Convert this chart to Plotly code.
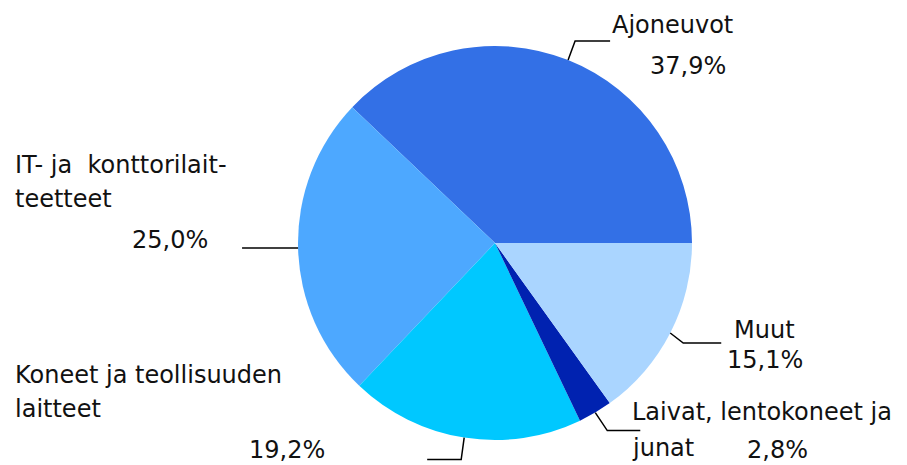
import math
import plotly.graph_objects as go

categories = ["Ajoneuvot", "IT- ja  konttorilait-teetteet", "Koneet ja teollisuuden laitteet",
              "Laivat, lentokoneet ja junat", "Muut"]
values = [37.9, 25.0, 19.2, 2.8, 15.1]
value_labels = ["37,9%", "25,0%", "19,2%", "2,8%", "15,1%"]
colors = ["#3370E6", "#4DA8FF", "#00C8FF", "#0022B0", "#AAD5FF"]

W, H = 907, 465
CX, CY, R = 495, 243, 197


def px(x):
    return x / W


def py(y):
    return 1 - y / H


total = sum(values)
# plotly places the first counterclockwise slice ending at 'rotation';
# shift so that the first slice starts at 3 o'clock
rotation = 90 - values[0] / total * 360

fig = go.Figure(go.Pie(
    labels=categories, values=values, sort=False,
    direction="counterclockwise", rotation=rotation,
    marker=dict(colors=colors, line=dict(width=0)),
    textinfo="none", hoverinfo="none", showlegend=False,
    domain=dict(x=[px(CX - R), px(CX + R)], y=[py(CY + R), py(CY - R)]),
))

# mid-angle edge points computed from the data (counterclockwise from 3 o'clock)
edges = []
acc = 0
for v in values:
    mid = (acc + v / 2) / total * 2 * math.pi
    edges.append((CX + R * math.cos(mid), CY - R * math.sin(mid)))
    acc += v

# leader elbows: (dx1, dy1) then horizontal run
elbows = [
    [(7, -19), 35],
    [(0, 0), -56],
    [(-3, 22), -34],
    [(12, 18), 33],
    [(13, 10), 38],
]
shapes = []
for (ex, ey), el in zip(edges, elbows):
    x1, y1 = ex + el[0][0], ey + el[0][1]
    x2 = x1 + el[1]
    path = f"M {px(ex)} {py(ey)} L {px(x1)} {py(y1)} L {px(x2)} {py(y1)}"
    shapes.append(dict(type="path", xref="paper", yref="paper", path=path,
                       line=dict(color="black", width=1.5)))

font = dict(family="DejaVu Sans, Verdana, sans-serif", size=24, color="#111111")
texts = [
    ("Ajoneuvot", 610, 25),
    (value_labels[0], 648, 66),
    ("IT- ja\u00a0 konttorilait-", 13, 165),
    ("teetteet", 13, 199),
    (value_labels[1], 130, 240),
    ("Koneet ja teollisuuden", 13, 375),
    ("laitteet", 13, 409),
    (value_labels[2], 247, 450),
    ("Muut", 732, 330),
    (value_labels[4], 725, 360),
    ("Laivat, lentokoneet ja", 630, 412),
    ("junat", 630, 448),
    (value_labels[3], 745, 450),
]
annotations = [dict(text=t, x=px(x), y=py(y), xref="paper", yref="paper",
                    xanchor="left", yanchor="middle", showarrow=False, font=font)
               for t, x, y in texts]

fig.update_layout(width=W, height=H, margin=dict(l=0, r=0, t=0, b=0),
                  paper_bgcolor="white", plot_bgcolor="white",
                  shapes=shapes, annotations=annotations)
fig.write_html("out.html", config={"displayModeBar": False},
               post_script="document.body.style.margin='0';")
